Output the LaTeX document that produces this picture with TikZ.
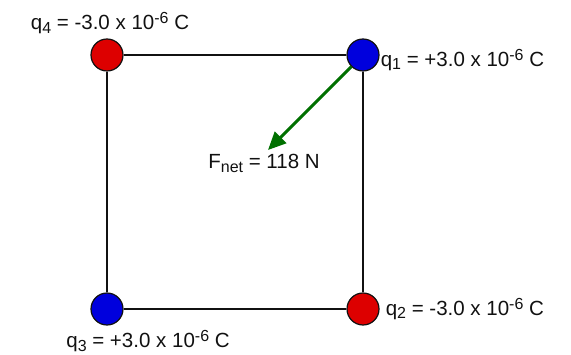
\documentclass[tikz,border=0pt]{standalone}
\usepackage{fontspec}
\setmainfont{Liberation Sans}
\usetikzlibrary{arrows.meta,positioning}
\definecolor{ink}{HTML}{111111}
\definecolor{chargered}{HTML}{DD0000}
\definecolor{chargeblue}{HTML}{0000DD}
\definecolor{forcegreen}{HTML}{007000}
\newcommand{\chsub}[1]{\raisebox{-3.5pt}{\fontsize{16}{16}\selectfont #1}}
\newcommand{\chsup}[1]{\raisebox{6pt}{\fontsize{16}{16}\selectfont #1}}
\tikzset{
  every node/.style={font=\fontsize{20.5}{24}\selectfont,text=ink},
  charge/.style={circle,draw=ink,line width=1.2pt,minimum size=32pt,inner sep=0pt},
  poscharge/.style={charge,fill=chargeblue},
  negcharge/.style={charge,fill=chargered},
  side/.style={draw=ink,line width=1.5pt},
  netforce/.style={-{Triangle[length=18pt,width=16pt]},line width=3pt,draw=forcegreen},
  chargelabel/.style={inner sep=0pt,align=left}
}
\begin{document}
\begin{tikzpicture}[x=1pt,y=-1pt]
  \useasboundingbox (0,0) rectangle (571,355);

  \node[poscharge] (q1) at (363,55) {};
  \node[negcharge] (q2) at (363,309) {};
  \node[poscharge] (q3) at (107,309) {};
  \node[negcharge] (q4) at (107,55) {};

  \draw[side] (q4) -- (q1) -- (q2) -- (q3) -- (q4);

  \node[chargelabel,above=4pt of q4,xshift=3pt] (q4lbl) {q\chsub{4} = -3.0 x 10\chsup{-6} C};
  \node[chargelabel,right=1pt of q1,yshift=-5pt] (q1lbl) {q\chsub{1} = +3.0 x 10\chsup{-6} C};
  \node[chargelabel,right=6pt of q2] (q2lbl) {q\chsub{2} = -3.0 x 10\chsup{-6} C};
  \node[chargelabel,below=5pt of q3,xshift=41pt] (q3lbl) {q\chsub{3} = +3.0 x 10\chsup{-6} C};

  \coordinate (tip) at (268,150);
  \draw[netforce] (q1) -- (tip);
  \node[chargelabel,below=4pt of tip,xshift=-4pt] (fnet) {F\chsub{net} = 118 N};
\end{tikzpicture}
\end{document}
